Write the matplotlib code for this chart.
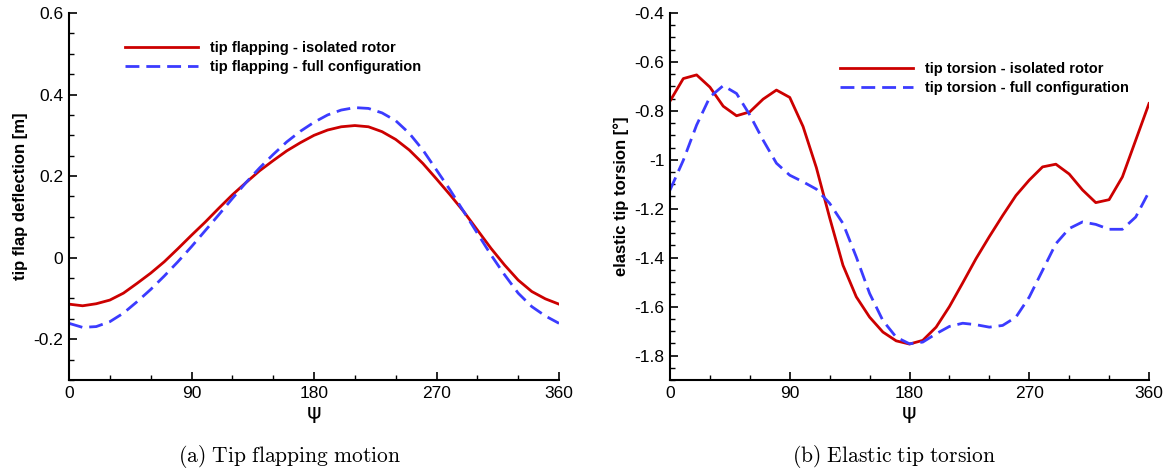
# Tip flapping and elastic tip torsion over one rotor revolution

import numpy as np
import matplotlib
matplotlib.use("Agg")
import matplotlib.pyplot as plt
from matplotlib.ticker import MultipleLocator

plt.rcParams["font.family"] = ["Liberation Sans", "DejaVu Sans"]
plt.rcParams["mathtext.fontset"] = "cm"

# azimuth in degrees
psi = np.arange(0, 361, 10)

# (a) tip flap deflection [m]
flap_isolated = [-0.114, -0.118, -0.113, -0.104, -0.087, -0.063, -0.038, -0.010, 0.022, 0.055,
                 0.087, 0.121, 0.154, 0.184, 0.213, 0.238, 0.262, 0.282, 0.300, 0.313,
                 0.321, 0.324, 0.321, 0.309, 0.290, 0.264, 0.231, 0.193, 0.154, 0.113,
                 0.068, 0.023, -0.018, -0.055, -0.083, -0.101, -0.114]
flap_full = [-0.161, -0.171, -0.169, -0.157, -0.136, -0.108, -0.078, -0.045, -0.010, 0.027,
             0.066, 0.105, 0.145, 0.184, 0.220, 0.253, 0.284, 0.310, 0.332, 0.350,
             0.362, 0.368, 0.366, 0.355, 0.336, 0.305, 0.264, 0.215, 0.166, 0.113,
             0.060, 0.007, -0.042, -0.087, -0.120, -0.143, -0.161]

# (b) elastic tip torsion [deg]
tors_isolated = [-0.760, -0.668, -0.653, -0.703, -0.781, -0.820, -0.804, -0.752, -0.715, -0.745,
                 -0.864, -1.032, -1.237, -1.431, -1.560, -1.643, -1.704, -1.740, -1.753, -1.738,
                 -1.684, -1.600, -1.503, -1.404, -1.314, -1.228, -1.146, -1.083, -1.029, -1.018,
                 -1.058, -1.123, -1.175, -1.163, -1.070, -0.920, -0.770]
tors_full = [-1.124, -1.002, -0.858, -0.743, -0.697, -0.729, -0.817, -0.920, -1.014, -1.063,
             -1.090, -1.120, -1.178, -1.260, -1.397, -1.546, -1.657, -1.725, -1.752, -1.745,
             -1.711, -1.681, -1.668, -1.674, -1.684, -1.677, -1.643, -1.561, -1.452, -1.343,
             -1.281, -1.254, -1.264, -1.284, -1.284, -1.234, -1.131]

red = "#cc0000"
blue = "#3b3bff"

W, H = 1169, 472
fig = plt.figure(figsize=(W / 100, H / 100), dpi=100)
ax1 = fig.add_axes([69 / W, 1 - 380 / H, 490 / W, 367 / H])
ax2 = fig.add_axes([670 / W, 1 - 380 / H, 479 / W, 367 / H])


def style_axis(ax, ylim, ymajor, ylabel):
    ax.set_xlim(0, 360)
    ax.set_ylim(*ylim)
    ax.spines["top"].set_visible(False)
    ax.spines["right"].set_visible(False)
    for s in ("left", "bottom"):
        ax.spines[s].set_linewidth(1.5)
    ax.xaxis.set_major_locator(MultipleLocator(90))
    ax.xaxis.set_minor_locator(MultipleLocator(30))
    ax.yaxis.set_major_locator(MultipleLocator(ymajor))
    ax.yaxis.set_minor_locator(MultipleLocator(0.05))
    ax.tick_params(which="both", direction="in", top=False, right=False, labelsize=12.5, pad=4)
    ax.tick_params(which="major", length=6, width=1.2)
    ax.tick_params(which="minor", length=3.5, width=1)
    ax.yaxis.set_major_formatter(plt.FuncFormatter(lambda v, p: f"{v:g}"))
    ax.set_xlabel("ψ", fontsize=16, family="DejaVu Sans", labelpad=2)
    ax.set_ylabel(ylabel, fontsize=12, fontweight="bold", labelpad=4)


ax1.plot(psi, flap_isolated, color=red, lw=2, label="tip flapping - isolated rotor")
ax1.plot(psi, flap_full, color=blue, lw=2, dashes=(5, 2.5), label="tip flapping - full configuration")
style_axis(ax1, (-0.3, 0.6), 0.2, "tip flap deflection [m]")
ax1.legend(loc="upper left", bbox_to_anchor=(125 / W, 1 - 41 / H), bbox_transform=fig.transFigure,
           frameon=False, borderpad=0, borderaxespad=0, handlelength=5, handletextpad=0.8,
           labelspacing=0.35, prop={"weight": "bold", "size": 10.5})

ax2.plot(psi, tors_isolated, color=red, lw=2, label="tip torsion - isolated rotor")
ax2.plot(psi, tors_full, color=blue, lw=2, dashes=(5, 2.5), label="tip torsion - full configuration")
style_axis(ax2, (-1.9, -0.4), 0.2, "elastic tip torsion [°]")
ax2.legend(loc="upper left", bbox_to_anchor=(840 / W, 1 - 62 / H), bbox_transform=fig.transFigure,
           frameon=False, borderpad=0, borderaxespad=0, handlelength=5, handletextpad=0.8,
           labelspacing=0.35, prop={"weight": "bold", "size": 10.5})

fig.text(290 / W, 1 - 457 / H, r"$\mathrm{(a)\ Tip\ flapping\ motion}$", fontsize=15.5,
         ha="center", va="center")
fig.text(894 / W, 1 - 457 / H, r"$\mathrm{(b)\ Elastic\ tip\ torsion}$", fontsize=15.5,
         ha="center", va="center")

fig.savefig("out.png", dpi=100)
